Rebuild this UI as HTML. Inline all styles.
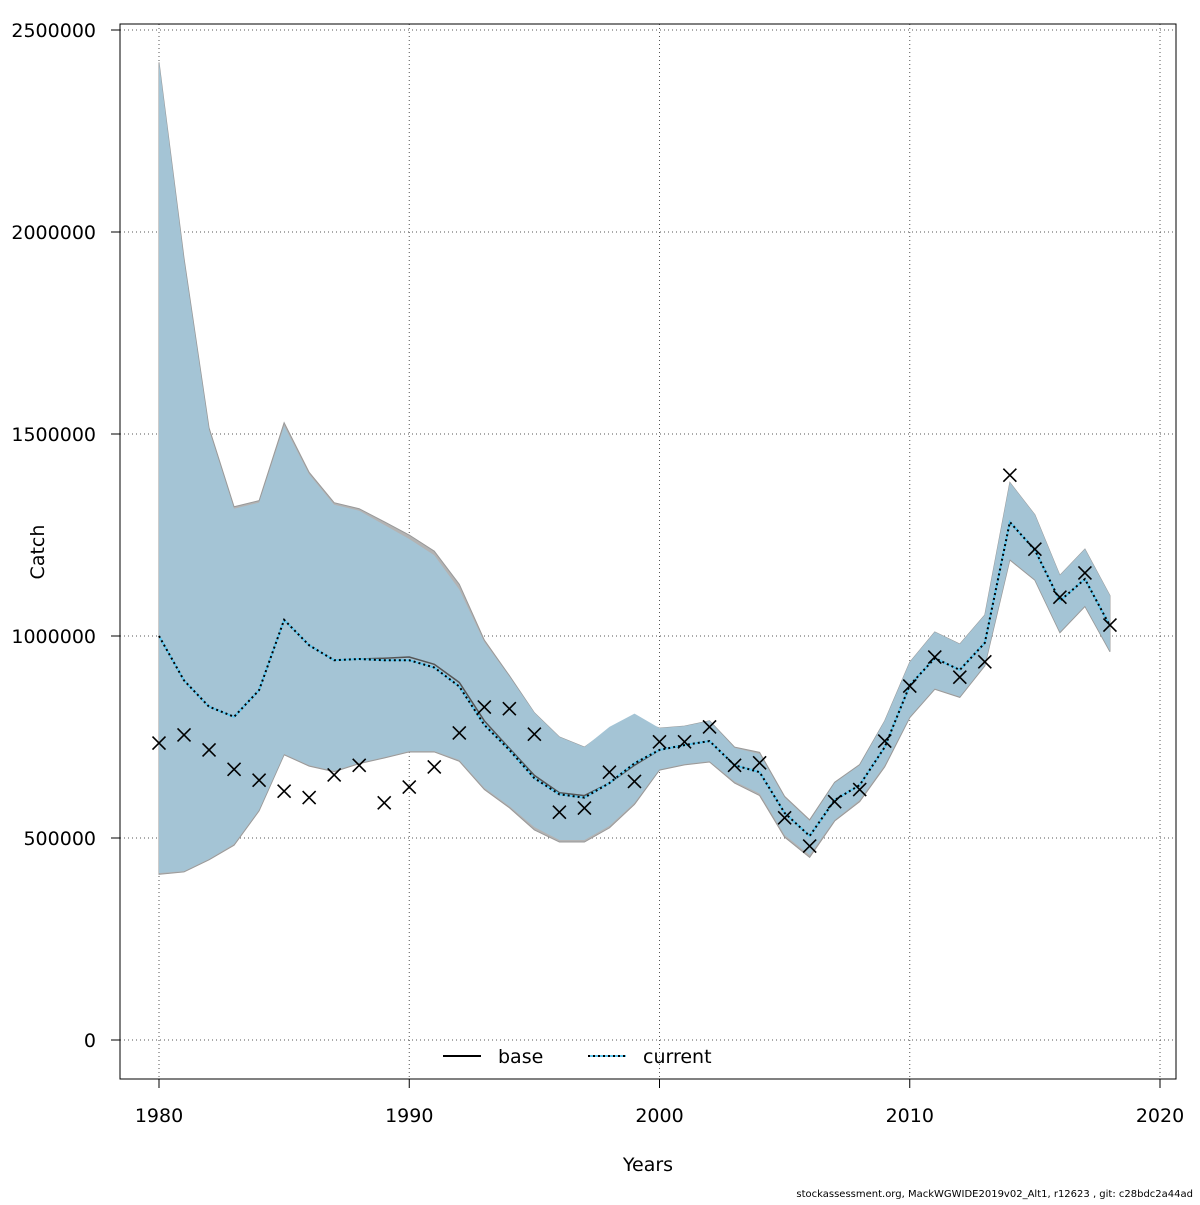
<!DOCTYPE html>
<html><head><meta charset="utf-8"><style>
html,body{margin:0;padding:0;background:#fff}
svg text{font-family:"DejaVu Sans","Liberation Sans",sans-serif}
</style></head><body>
<svg id="chart" width="1200" height="1200" viewBox="0 0 1200 1200" xmlns="http://www.w3.org/2000/svg">
<g id="grid"></g>
<g id="bands"></g>
<g id="lines"></g>
<g id="points"></g>
<rect x="120" y="24" width="1056" height="1055" fill="none" stroke="#000" stroke-width="1"/>
<g id="axes"></g>
<text x="648" y="1171" font-size="19" text-anchor="middle">Years</text>
<text x="44" y="552" font-size="19" text-anchor="middle" transform="rotate(-90 44 552)">Catch</text>
<g>
<line x1="443" y1="1056" x2="481" y2="1056" stroke="#000" stroke-width="2"/>
<text x="498" y="1063" font-size="19">base</text>
<line x1="588" y1="1056" x2="626" y2="1056" stroke="#5fc8f0" stroke-width="2"/>
<line x1="588" y1="1056" x2="626" y2="1056" stroke="#000" stroke-width="2" stroke-dasharray="2,3"/>
<text x="643" y="1063" font-size="19">current</text>
</g>
<text x="1193" y="1197" font-size="10" text-anchor="end">stockassessment.org, MackWGWIDE2019v02_Alt1, r12623 , git: c28bdc2a44ad</text>
</svg>
<script>
const years = [1980,1981,1982,1983,1984,1985,1986,1987,1988,1989,1990,1991,1992,1993,1994,1995,1996,1997,1998,1999,2000,2001,2002,2003,2004,2005,2006,2007,2008,2009,2010,2011,2012,2013,2014,2015,2016,2017,2018];
const currentMean = [1000000,890000,825000,800000,866000,1040000,977000,940000,943000,940000,940000,922000,875000,780000,718000,648000,608000,600000,636000,685000,718000,730000,740000,680000,663000,562000,505000,594000,631000,725000,878000,945000,916000,983000,1282000,1213000,1087000,1141000,1025000];
const currentUpper = [2420000,1930000,1510000,1315000,1330000,1520000,1400000,1325000,1310000,1275000,1240000,1200000,1115000,985000,900000,810000,750000,725000,775000,808000,772000,777000,790000,723000,708000,600000,542000,636000,680000,790000,935000,1010000,980000,1052000,1380000,1300000,1150000,1215000,1100000];
const currentLower = [413000,418000,448000,485000,570000,708000,680000,666000,686000,700000,715000,715000,693000,624000,579000,527000,495000,495000,530000,587000,670000,683000,690000,640000,610000,507000,458000,545000,594000,680000,800000,870000,850000,928000,1190000,1140000,1010000,1075000,963000];
const baseMean = [1000000,890000,825000,800000,866000,1040000,977000,940000,943000,945000,948000,930000,885000,790000,722000,655000,612000,605000,636000,680000,718000,730000,740000,680000,663000,562000,505000,594000,631000,725000,878000,945000,916000,983000,1282000,1213000,1087000,1141000,1025000];
const baseUpper = [2420000,1935000,1515000,1320000,1335000,1528000,1405000,1330000,1315000,1283000,1250000,1210000,1128000,990000,902000,810000,750000,725000,770000,795000,772000,777000,790000,725000,712000,603000,545000,638000,682000,790000,935000,1010000,980000,1052000,1380000,1300000,1150000,1215000,1100000];
const baseLower = [410000,416000,446000,482000,567000,706000,678000,664000,684000,698000,713000,713000,690000,620000,575000,520000,490000,490000,525000,583000,668000,681000,688000,636000,605000,502000,452000,542000,590000,676000,798000,868000,848000,926000,1188000,1138000,1008000,1073000,961000];
const observed = [735000,755000,718000,670000,643000,616000,600000,656000,680000,587000,626000,676000,760000,824000,820000,757000,564000,574000,663000,640000,738000,738000,775000,680000,686000,550000,480000,590000,620000,740000,876000,948000,898000,936000,1398000,1215000,1096000,1156000,1027000];
const xTicks = [1980,1990,2000,2010,2020];
const yTicks = [0,500000,1000000,1500000,2000000,2500000];

const NS='http://www.w3.org/2000/svg';
function X(yr){return 159+(yr-1980)*(1001/40);}
function Y(v){return 1040-v*(1010/2500000);}
function mk(tag,attrs,parent){const e=document.createElementNS(NS,tag);for(const k in attrs)e.setAttribute(k,attrs[k]);parent.appendChild(e);return e;}
const grid=document.getElementById('grid'),bands=document.getElementById('bands'),lines=document.getElementById('lines'),pts=document.getElementById('points'),axes=document.getElementById('axes');

xTicks.forEach(t=>{
  const l=mk('line',{x1:X(t),x2:X(t),y1:24,y2:1079,stroke:'#555','stroke-width':1,'stroke-dasharray':'1,3'},grid);
  
  
  const tk=mk('line',{x1:X(t),x2:X(t),y1:1079,y2:1088,stroke:'#000'},axes);
  
  
  const tx=mk('text',{x:X(t),y:1122,'font-size':19,'text-anchor':'middle'},axes);
  tx.textContent=t;
  
  
});
yTicks.forEach(t=>{
  const l=mk('line',{x1:120,x2:1176,y1:Y(t),y2:Y(t),stroke:'#555','stroke-width':1,'stroke-dasharray':'1,3'},grid);
  
  
  const tk=mk('line',{x1:111,x2:120,y1:Y(t),y2:Y(t),stroke:'#000'},axes);
  
  
  const tx=mk('text',{x:96,y:Y(t)+7,'font-size':19,'text-anchor':'end'},axes);
  tx.textContent=t;
  
  
});
function bandPath(up,lo){let d='';years.forEach((yr,i)=>{d+=(i?'L':'M')+X(yr)+','+Y(up[i]);});for(let i=years.length-1;i>=0;i--)d+='L'+X(years[i])+','+Y(lo[i]);return d+'Z';}
function linePath(v){return years.map((yr,i)=>(i?'L':'M')+X(yr)+','+Y(v[i])).join('');}
const bb=mk('path',{d:bandPath(baseUpper,baseLower),fill:'#b3b3b3',stroke:'#999','stroke-width':1},bands);


const cb=mk('path',{d:bandPath(currentUpper,currentLower),fill:'#a4c4d5'},bands);


const bl=mk('path',{d:linePath(baseMean),fill:'none',stroke:'#555','stroke-width':1.5},lines);


const cl1=mk('path',{d:linePath(currentMean),fill:'none',stroke:'#5fc8f0','stroke-width':2},lines);


const cl2=mk('path',{d:linePath(currentMean),fill:'none',stroke:'#000','stroke-width':2,'stroke-dasharray':'2,3'},lines);


observed.forEach((v,i)=>{
  const x=X(years[i]),y=Y(v),s=6.5;
  const p=mk('path',{d:`M${x-s},${y-s}L${x+s},${y+s}M${x-s},${y+s}L${x+s},${y-s}`,stroke:'#000','stroke-width':1.6,fill:'none'},pts);
  
  
});
</script>
</body></html>
